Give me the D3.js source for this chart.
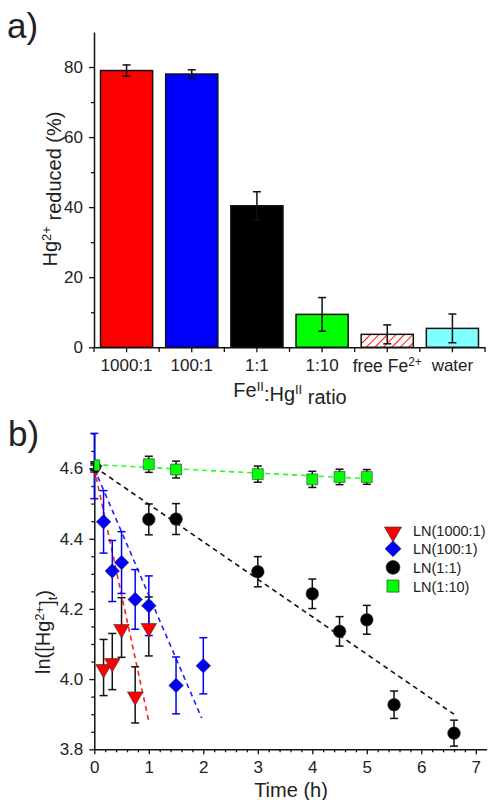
<!DOCTYPE html>
<html>
<head>
<meta charset="utf-8">
<script src="https://cdn.jsdelivr.net/npm/d3@7"></script>
<style>
	body { margin: 0; background: #fff; }
	text { font-family: Arial, "Liberation Sans", sans-serif; fill: #222; }
</style>
</head>
<body>
<div id="visContainer"></div>
<script>
'use strict';

// ---- panel a) data ----
var barCats = ['1000:1', '100:1', '1:1', '1:10', 'free', 'water'];
var barVals = [79.0, 78.0, 40.4, 9.4, 3.7, 5.4];
var barErrs = [1.6, 1.2, 4.0, 4.8, 2.7, 4.1];
var barYTicks = [0, 20, 40, 60, 80];

// ---- panel b) data ----
var t1000 = [0, 0.17, 0.33, 0.5, 0.75, 1];
var y1000 = [4.6, 4.033, 4.050, 4.147, 3.955, 4.150];
var e1000 = [0.01, 0.08, 0.08, 0.085, 0.08, 0.084];

var t100 = [0, 0.17, 0.33, 0.5, 0.75, 1, 1.5, 2];
var y100 = [4.607, 4.448, 4.308, 4.332, 4.227, 4.209, 3.982, 4.038];
var e100 = [0.093, 0.089, 0.087, 0.088, 0.085, 0.085, 0.081, 0.08];

var t11 = [0, 1, 1.5, 3, 4, 4.5, 5, 5.5, 6.6];
var y11 = [4.605, 4.455, 4.456, 4.306, 4.243, 4.136, 4.169, 3.927, 3.846];
var e11 = [0.01, 0.044, 0.044, 0.043, 0.042, 0.042, 0.041, 0.039, 0.037];

var t110 = [0, 1, 1.5, 3, 4, 4.5, 5];
var y110 = [4.609, 4.612, 4.597, 4.584, 4.569, 4.576, 4.576];
var e110 = [0.01, 0.023, 0.024, 0.023, 0.023, 0.022, 0.021];

// linear fits: [t start, t end], [y start, y end]
var fitT1000 = [0, 1], fitY1000 = [4.6, 3.88];
var fitT100 = [0, 1.97], fitY100 = [4.6, 3.889];
var fitT11 = [0, 6.6], fitY11 = [4.605, 3.9];
var fitT110 = [0, 5], fitY110 = [4.611, 4.571];

var xTicksB = [0, 1, 2, 3, 4, 5, 6, 7];
var yTicksB = [3.8, 4.0, 4.2, 4.4, 4.6];

var svg = d3.select('#visContainer')
	.append('svg')
	.attr('width', 489)
	.attr('height', 800);

var defs = svg.append('defs');
var hatch = defs.append('pattern')
	.attr('id', 'hatch')
	.attr('patternUnits', 'userSpaceOnUse')
	.attr('width', 6)
	.attr('height', 6)
	.attr('patternTransform', 'rotate(45)');
hatch.append('rect').attr('width', 6).attr('height', 6).attr('fill', '#fff');
hatch.append('line').attr('x1', 0).attr('y1', 0).attr('x2', 0).attr('y2', 6)
	.attr('stroke', '#ff2020').attr('stroke-width', 2.2);

// style an axis the Origin way
function styleAxis(g, fontSize) {
	g.select('.domain').attr('stroke', '#111').attr('stroke-width', 1.5);
	g.selectAll('.tick line').attr('stroke', '#111').attr('stroke-width', 1.3);
	g.selectAll('.tick text').style('font-size', fontSize + 'px').attr('fill', '#222');
}

function errorBars(g, xs, ys, es, x, y, color, cap) {
	xs.forEach(function (t, i) {
		var cx = x(t);
		var top = y(ys[i] + es[i]), bot = y(ys[i] - es[i]);
		g.append('line').attr('x1', cx).attr('x2', cx).attr('y1', top).attr('y2', bot)
			.attr('stroke', color).attr('stroke-width', 1.5);
		[top, bot].forEach(function (yy) {
			g.append('line').attr('x1', cx - cap / 2).attr('x2', cx + cap / 2)
				.attr('y1', yy).attr('y2', yy)
				.attr('stroke', color).attr('stroke-width', 1.5);
		});
	});
}

// ================== a) bar chart ==================
var xA = d3.scaleBand().domain(barCats).range([94, 485]).paddingInner(0.2).paddingOuter(0.1);
var yA = d3.scaleLinear().domain([0, 90]).range([347.3, 32]);

var barFill = {
	'1000:1': '#ff0000', '100:1': '#0000ff', '1:1': '#000000',
	'1:10': '#00ff00', 'free': 'url(#hatch)', 'water': '#80ffff'
};

var gA = svg.append('g');

gA.selectAll('rect.bar')
	.data(barCats)
	.enter().append('rect')
	.attr('class', 'bar')
	.attr('x', function (d) { return xA(d); })
	.attr('width', xA.bandwidth())
	.attr('y', function (d, i) { return yA(barVals[i]); })
	.attr('height', function (d, i) { return yA(0) - yA(barVals[i]); })
	.attr('fill', function (d) { return barFill[d]; })
	.attr('stroke', '#111')
	.attr('stroke-width', 1.5);

errorBars(gA, barCats, barVals, barErrs,
	function (d) { return xA(d) + xA.bandwidth() / 2; }, yA, '#111', 8);

// y axis
var yAxisA = gA.append('g').attr('transform', 'translate(94,0)')
	.call(d3.axisLeft(yA).tickValues(barYTicks).tickSize(5).tickPadding(6).tickSizeOuter(0));
styleAxis(yAxisA, 17);
gA.append('g').attr('transform', 'translate(94,0)')
	.call(d3.axisLeft(yA).tickValues([10, 30, 50, 70]).tickSize(3).tickFormat(''))
	.call(function (g) { g.select('.domain').remove(); })
	.selectAll('line').attr('stroke', '#111').attr('stroke-width', 1.3);

// x axis
var xAxisA = gA.append('g').attr('transform', 'translate(0,347.3)')
	.call(d3.axisBottom(xA).tickSize(5).tickPadding(7).tickSizeOuter(0));
styleAxis(xAxisA, 17);
// boundary ticks between bands
var bounds = barCats.map(function (d) { return xA(d) - xA.step() * 0.1; });
bounds.push(485);
gA.selectAll('line.btick').data(bounds).enter().append('line')
	.attr('x1', function (d) { return d; }).attr('x2', function (d) { return d; })
	.attr('y1', 347.3).attr('y2', 352)
	.attr('stroke', '#111').attr('stroke-width', 1.3);

// superscript for "free Fe2+"
xAxisA.selectAll('.tick text').each(function (d) {
	var t = d3.select(this);
	if (d === 'free') {
		t.text('free Fe').style('font-size', '17.5px');
		t.append('tspan').attr('dy', '-0.5em').style('font-size', '12px').text('2+');
	}
});

gA.append('text').attr('x', 7).attr('y', 38).style('font-size', '35px').attr('fill', '#111').text('a)');

var titleAy = gA.append('text')
	.attr('transform', 'translate(57,189) rotate(-90)')
	.attr('text-anchor', 'middle')
	.style('font-size', '20px');
titleAy.append('tspan').text('Hg');
titleAy.append('tspan').attr('dy', '-0.5em').style('font-size', '13px').text('2+');
titleAy.append('tspan').attr('dy', '0.5em').text(' reduced (%)');

var titleAx = gA.append('text')
	.attr('x', 290).attr('y', 397)
	.attr('text-anchor', 'middle')
	.style('font-size', '20px');
titleAx.append('tspan').text('Fe');
titleAx.append('tspan').attr('dy', '-0.5em').style('font-size', '13px').text('II');
titleAx.append('tspan').attr('dy', '0.5em').text(':Hg');
titleAx.append('tspan').attr('dy', '-0.5em').style('font-size', '13px').text('II');
titleAx.append('tspan').attr('dy', '0.5em').text(' ratio');

// ================== b) kinetics ==================
var xB = d3.scaleLinear().domain([0, 7.2]).range([94.3, 94.3 + 7.2 * 54.5]);
var yB = d3.scaleLinear().domain([3.8, 4.7]).range([749.3, 433.4]);

var gB = svg.append('g');

defs.append('clipPath').attr('id', 'plotClip')
	.append('rect').attr('x', xB(0)).attr('y', yB(4.7))
	.attr('width', xB(7.2) - xB(0)).attr('height', yB(3.8) - yB(4.7));

// axes
var xAxisB = gB.append('g').attr('transform', 'translate(0,' + yB(3.8) + ')')
	.call(d3.axisBottom(xB).tickValues(xTicksB).tickSize(5).tickPadding(7).tickSizeOuter(0).tickFormat(d3.format('d')));
styleAxis(xAxisB, 17);
gB.append('g').attr('transform', 'translate(0,' + yB(3.8) + ')')
	.call(d3.axisBottom(xB).tickValues(d3.range(0.2, 7.2, 0.2).filter(function (v) { return Math.abs(v - Math.round(v)) > 0.01; })).tickSize(3).tickFormat(''))
	.call(function (g) { g.select('.domain').remove(); })
	.selectAll('line').attr('stroke', '#111').attr('stroke-width', 1.3);

var yAxisB = gB.append('g').attr('transform', 'translate(' + xB(0) + ',0)')
	.call(d3.axisLeft(yB).tickValues(yTicksB).tickSize(5).tickPadding(6).tickSizeOuter(0).tickFormat(d3.format('.1f')));
styleAxis(yAxisB, 17);
gB.append('g').attr('transform', 'translate(' + xB(0) + ',0)')
	.call(d3.axisLeft(yB).tickValues([3.85, 3.9, 3.95, 4.05, 4.1, 4.15, 4.25, 4.3, 4.35, 4.45, 4.5, 4.55, 4.65, 4.7]).tickSize(3).tickFormat(''))
	.call(function (g) { g.select('.domain').remove(); })
	.selectAll('line').attr('stroke', '#111').attr('stroke-width', 1.3);

// fit lines
var fits = [
	{ t: fitT1000, y: fitY1000, c: '#ff2020' },
	{ t: fitT100, y: fitY100, c: '#2020ff' },
	{ t: fitT11, y: fitY11, c: '#111' },
	{ t: fitT110, y: fitY110, c: '#20ff20' }
];
fits.forEach(function (f) {
	gB.append('line')
		.attr('x1', xB(f.t[0])).attr('y1', yB(f.y[0]))
		.attr('x2', xB(f.t[1])).attr('y2', yB(f.y[1]))
		.attr('stroke', f.c).attr('stroke-width', 1.6)
		.attr('stroke-dasharray', '5,4');
});

// error bars
errorBars(gB, t1000, y1000, e1000, xB, yB, '#111', 8);
errorBars(gB, t100, y100, e100, xB, yB, '#0000ff', 8);
errorBars(gB, t11, y11, e11, xB, yB, '#111', 8);
errorBars(gB, t110, y110, e110, xB, yB, '#111', 8);

var marks = gB.append('g').attr('clip-path', 'url(#plotClip)');

var symTri = d3.symbol().type(d3.symbolTriangle).size(105);
var symDia = d3.symbol().type(d3.symbolSquare).size(105);
var symCir = d3.symbol().type(d3.symbolCircle).size(125);
var symSq = d3.symbol().type(d3.symbolSquare).size(120);

var series = [
	{ t: t1000, y: y1000, path: symTri(), rot: 180, fill: '#ff0000', name: 'LN(1000:1)' },
	{ t: t100, y: y100, path: symDia(), rot: 45, fill: '#0000ff', name: 'LN(100:1)' },
	{ t: t11, y: y11, path: symCir(), rot: 0, fill: '#000000', name: 'LN(1:1)' },
	{ t: t110, y: y110, path: symSq(), rot: 0, fill: '#00ff00', name: 'LN(1:10)' }
];

series.forEach(function (s) {
	marks.selectAll(null)
		.data(s.t)
		.enter().append('path')
		.attr('d', s.path)
		.attr('transform', function (d, i) {
			var dy = s.rot === 180 ? 1.5 : 0;
			return 'translate(' + xB(d) + ',' + (yB(s.y[i]) + dy) + ') rotate(' + s.rot + ')';
		})
		.attr('fill', s.fill)
		.attr('stroke', '#333')
		.attr('stroke-width', 0.6);
});

// legend
var legend = gB.append('g').attr('transform', 'translate(393,530)');
series.forEach(function (s, i) {
	var row = legend.append('g').attr('transform', 'translate(0,' + (i * 18.7) + ')');
	row.append('path')
		.attr('d', s.path)
		.attr('transform', 'translate(0,' + (s.rot === 180 ? 2 : 0) + ') rotate(' + s.rot + ') scale(1.1)')
		.attr('fill', s.fill)
		.attr('stroke', '#333')
		.attr('stroke-width', 0.6);
	row.append('text')
		.attr('x', 20).attr('y', 5.5)
		.style('font-size', '14.5px')
		.text(s.name);
});

gB.append('text').attr('x', 8).attr('y', 446).style('font-size', '35px').attr('fill', '#111').text('b)');

var titleBy = gB.append('text')
	.attr('transform', 'translate(50,632) rotate(-90)')
	.attr('text-anchor', 'middle')
	.style('font-size', '20px');
titleBy.append('tspan').text('ln([Hg');
titleBy.append('tspan').attr('dy', '-0.5em').style('font-size', '13px').text('2+');
titleBy.append('tspan').attr('dy', '0.5em').text(']');
titleBy.append('tspan').attr('dy', '0.3em').style('font-size', '13px').text('t');
titleBy.append('tspan').attr('dy', '-0.3em').text(')');

gB.append('text')
	.attr('x', 291).attr('y', 797)
	.attr('text-anchor', 'middle')
	.style('font-size', '20px')
	.text('Time (h)');
</script>
</body>
</html>
